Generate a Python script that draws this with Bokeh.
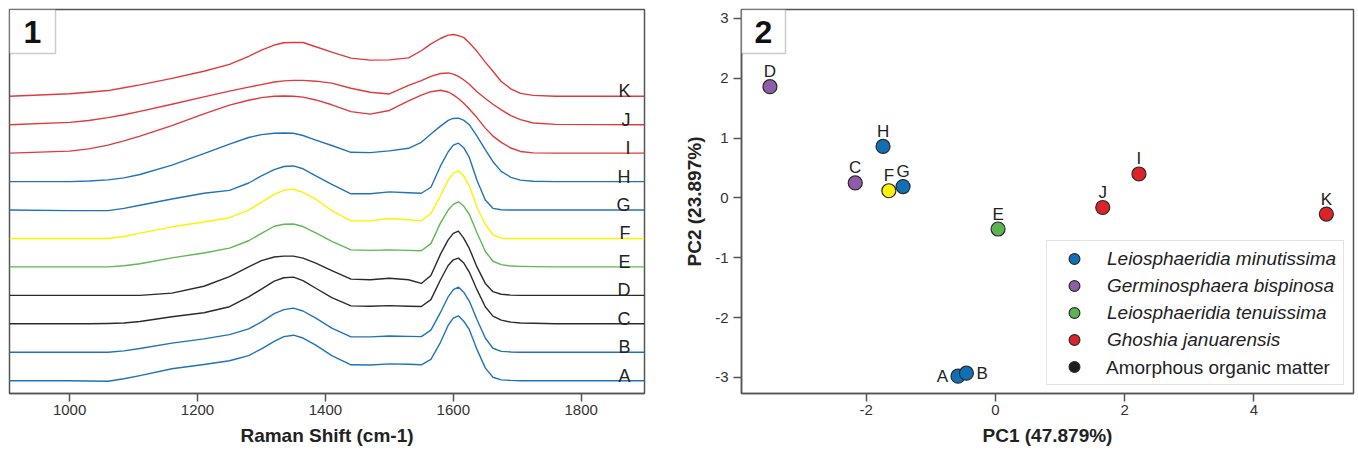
import numpy as np
from bokeh.plotting import figure
from bokeh.models import Range1d, FixedTicker, Legend, LegendItem, BoxAnnotation, Label
from bokeh.layouts import row
from bokeh.embed import file_html
from bokeh.resources import INLINE
from bokeh.core.properties import value

# ---------------- data: panel 1 (Raman spectra) ----------------
wavenumber = [906, 1000, 1030, 1060, 1085, 1110, 1160, 1210, 1250, 1280,
              1300, 1320, 1335, 1350, 1365, 1385, 1410, 1440, 1470, 1500,
              1530, 1550, 1565, 1580, 1592, 1600, 1608, 1616, 1625, 1637,
              1650, 1662, 1675, 1690, 1705, 1725, 1760, 1899]

spec_A = [0, 0, -0.01, -0.02, 0.07, 0.18, 0.42, 0.57, 0.70, 0.88,
          1.12, 1.38, 1.55, 1.60, 1.50, 1.25, 0.88, 0.56, 0.55, 0.59,
          0.58, 0.56, 0.75, 1.35, 1.95, 2.20, 2.28, 2.10, 1.80, 1.10,
          0.45, 0.12, 0.03, 0.01, 0, 0, 0, 0]
spec_B = [0, 0, 0, 0, 0.05, 0.13, 0.32, 0.47, 0.62, 0.82,
          1.07, 1.36, 1.50, 1.55, 1.45, 1.20, 0.85, 0.54, 0.54, 0.57,
          0.56, 0.55, 0.78, 1.40, 1.95, 2.20, 2.29, 2.12, 1.80, 1.15,
          0.50, 0.14, 0.03, 0.01, 0, 0, 0, 0]
spec_C = [0, 0, 0, 0.01, 0.03, 0.08, 0.25, 0.39, 0.60, 0.95,
          1.22, 1.50, 1.62, 1.64, 1.52, 1.25, 0.92, 0.63, 0.62, 0.64,
          0.62, 0.61, 0.85, 1.55, 2.05, 2.25, 2.31, 2.15, 1.82, 1.20,
          0.60, 0.27, 0.13, 0.06, 0.03, 0.02, 0, 0]
spec_D = [0, 0, 0, 0, 0, 0, 0.08, 0.32, 0.66, 1.00,
          1.22, 1.35, 1.38, 1.38, 1.31, 1.13, 0.87, 0.57, 0.55, 0.60,
          0.55, 0.42, 0.70, 1.45, 1.95, 2.18, 2.26, 2.02, 1.65, 1.00,
          0.42, 0.13, 0.04, 0.01, 0, 0, 0, 0]
spec_E = [0, 0, 0, 0, 0.04, 0.11, 0.32, 0.49, 0.66, 0.92,
          1.18, 1.43, 1.50, 1.51, 1.42, 1.20, 0.90, 0.60, 0.58, 0.60,
          0.58, 0.57, 0.82, 1.55, 2.00, 2.20, 2.29, 2.15, 1.85, 1.20,
          0.55, 0.20, 0.08, 0.03, 0.02, 0.01, 0, 0]
spec_F = [0, 0, 0, 0, 0.07, 0.19, 0.41, 0.58, 0.73, 1.00,
          1.27, 1.55, 1.70, 1.73, 1.62, 1.38, 0.98, 0.62, 0.62, 0.70,
          0.66, 0.62, 0.88, 1.50, 2.05, 2.30, 2.38, 2.20, 1.85, 1.10,
          0.50, 0.13, 0.01, 0, 0, 0, 0, 0]
spec_G = [0, -0.02, -0.02, -0.02, 0.06, 0.17, 0.39, 0.59, 0.69, 0.95,
          1.20, 1.42, 1.53, 1.55, 1.45, 1.20, 0.90, 0.57, 0.57, 0.64,
          0.61, 0.59, 0.80, 1.55, 2.05, 2.28, 2.35, 2.20, 1.85, 1.05,
          0.35, 0.06, 0.01, 0, 0, 0, 0, 0]
spec_H = [0, 0, 0.02, 0.06, 0.13, 0.25, 0.58, 0.98, 1.32, 1.55,
          1.65, 1.70, 1.71, 1.70, 1.62, 1.46, 1.27, 1.03, 1.02, 1.08,
          1.17, 1.38, 1.67, 1.95, 2.15, 2.22, 2.23, 2.16, 2.00, 1.60,
          1.12, 0.70, 0.36, 0.15, 0.05, 0.01, 0, 0]
spec_I = [0, 0.07, 0.15, 0.28, 0.43, 0.60, 0.97, 1.38, 1.69, 1.86,
          1.95, 2.00, 2.01, 2.00, 1.97, 1.87, 1.70, 1.46, 1.37, 1.50,
          1.84, 2.04, 2.16, 2.21, 2.15, 2.05, 1.92, 1.76, 1.55, 1.25,
          0.88, 0.60, 0.38, 0.18, 0.06, 0.01, 0, 0]
spec_J = [0, 0.08, 0.15, 0.25, 0.35, 0.47, 0.72, 0.98, 1.18, 1.32,
          1.41, 1.50, 1.54, 1.56, 1.56, 1.53, 1.46, 1.28, 1.14, 1.08,
          1.38, 1.55, 1.70, 1.80, 1.82, 1.78, 1.70, 1.58, 1.42, 1.16,
          0.92, 0.72, 0.52, 0.32, 0.18, 0.06, 0.01, 0]
spec_K = [0, 0.09, 0.14, 0.20, 0.30, 0.40, 0.63, 0.88, 1.12, 1.40,
          1.62, 1.80, 1.88, 1.89, 1.89, 1.74, 1.55, 1.34, 1.27, 1.28,
          1.35, 1.60, 1.84, 2.03, 2.15, 2.17, 2.13, 2.07, 1.88, 1.58,
          1.20, 0.88, 0.52, 0.26, 0.10, 0.03, 0, 0]

samples = ["A", "B", "C", "D", "E", "F", "G", "H", "I", "J", "K"]
spectra = [spec_A, spec_B, spec_C, spec_D, spec_E, spec_F,
           spec_G, spec_H, spec_I, spec_J, spec_K]
raman_ticks = [1000, 1200, 1400, 1600, 1800]

# ---------------- data: panel 2 (PCA) ----------------
pc1 = [-0.58, -0.45, -2.17, -3.49, 0.04, -1.65, -1.43, -1.74, 2.22, 1.66, 5.12]
pc2 = [-2.98, -2.93, 0.25, 1.86, -0.52, 0.12, 0.19, 0.86, 0.40, -0.16, -0.27]
taxa = ["Leiosphaeridia minutissima", "Germinosphaera bispinosa",
        "Leiosphaeridia tenuissima", "Ghoshia januarensis",
        "Amorphous organic matter"]
# taxon index of each point (None = not in legend, drawn yellow)
point_taxon = [0, 0, 1, 1, 2, None, 0, 0, 3, 3, 3]
pc1_ticks = [-2, 0, 2, 4]
pc2_ticks = [-3, -2, -1, 0, 1, 2, 3]

# ---------------- styles ----------------
S_BLUE, S_BLACK, S_GREEN, S_YELLOW, S_RED = "#1f74b7", "#2b2b2b", "#5db951", "#fff200", "#e03a3e"
spectrum_colors = [S_BLUE, S_BLUE, S_BLACK, S_BLACK, S_GREEN, S_YELLOW,
                   S_BLUE, S_BLUE, S_RED, S_RED, S_RED]
taxon_colors = ["#1170b5", "#8e5ca8", "#5bb450", "#dc2329", "#1e1e1e"]
other_color = "#fff200"
label_side = {"A": "left", "B": "right"}
FONT = "Liberation Sans"
AX = "#555555"
H_TOTAL, TOP, BOTTOM, H_FRAME = 454, 9, 61, 384


def style_axis(ax):
    ax.axis_line_color = AX
    ax.axis_line_width = 1.5
    ax.major_tick_line_color = AX
    ax.major_tick_line_width = 1.5
    ax.major_tick_in = 0
    ax.minor_tick_in = 0
    ax.minor_tick_out = 0
    ax.major_label_text_font = FONT
    ax.major_label_text_font_size = "15px"
    ax.major_label_text_color = "#333333"
    ax.axis_label_text_font = FONT
    ax.axis_label_text_font_size = "19px"
    ax.axis_label_text_font_style = "bold"
    ax.axis_label_text_color = "#222222"


# ================= panel 1 =================
X0, X1 = 906, 1899
Y0, Y1 = -0.45, 13.05
W1_FRAME = 635
p1 = figure(width=9 + W1_FRAME + 37, height=H_TOTAL, x_range=Range1d(X0, X1), y_range=Range1d(Y0, Y1),
            output_backend="svg", toolbar_location=None,
            min_border_left=9, min_border_right=37, min_border_top=TOP, min_border_bottom=BOTTOM)
p1.yaxis.visible = False
p1.grid.visible = False
p1.outline_line_color = AX
p1.outline_line_width = 1.5
p1.background_fill_color = "white"

for i, (vals, col) in enumerate(zip(spectra, spectrum_colors)):
    p1.line(wavenumber, [i + v for v in vals], line_color=col, line_width=1.4,
            line_join="round")

p1.text(x=[X1] * len(samples), y=list(range(len(samples))), text=samples,
        x_offset=-14, y_offset=-5, text_align="right", text_baseline="alphabetic",
        text_font=value(FONT), text_font_size="18px", text_color="#222222")

xa = p1.xaxis[0]
xa.ticker = FixedTicker(ticks=raman_ticks)
xa.axis_label = "Raman Shift (cm-1)"
style_axis(xa)
xa.major_tick_out = 8
xa.major_label_standoff = 3
xa.axis_label_standoff = 7

xpp1 = (X1 - X0) / W1_FRAME
ypp1 = (Y1 - Y0) / H_FRAME
p1.add_layout(BoxAnnotation(right=X0 + 46 * xpp1, bottom=Y1 - 44 * ypp1,
                            fill_color="white", fill_alpha=1.0,
                            line_color=AX, line_width=1.5))
p1.add_layout(Label(x=X0 + 23 * xpp1, y=Y1 - 22 * ypp1, text="1",
                    text_align="center", text_baseline="middle",
                    text_font=FONT, text_font_size="32px", text_font_style="bold",
                    text_color="#111111"))

# ================= panel 2 =================
PX0, PX1 = -3.93, 5.54
PY0, PY1 = -3.27, 3.15
W2_FRAME = 612
p2 = figure(width=60 + W2_FRAME + 3, height=H_TOTAL, x_range=Range1d(PX0, PX1), y_range=Range1d(PY0, PY1),
            output_backend="svg", toolbar_location=None,
            min_border_left=60, min_border_right=3, min_border_top=TOP, min_border_bottom=BOTTOM)
p2.grid.visible = False
p2.outline_line_color = AX
p2.outline_line_width = 1.5

xb = p2.xaxis[0]
xb.ticker = FixedTicker(ticks=pc1_ticks)
xb.major_label_overrides = {t: str(t) for t in pc1_ticks}
xb.axis_label = "PC1 (47.879%)"
style_axis(xb)
xb.major_tick_out = 8
xb.major_label_standoff = 3
xb.axis_label_standoff = 7

yb = p2.yaxis[0]
yb.ticker = FixedTicker(ticks=pc2_ticks)
yb.major_label_overrides = {t: str(t) for t in pc2_ticks}
yb.axis_label = "PC2 (23.897%)"
style_axis(yb)
yb.major_tick_out = 8
yb.major_label_standoff = 5
yb.axis_label_standoff = 7

taxon_renderers = []
for k, col in enumerate(taxon_colors):
    xs = [pc1[i] for i in range(len(samples)) if point_taxon[i] == k]
    ys = [pc2[i] for i in range(len(samples)) if point_taxon[i] == k]
    if not xs:
        # legend-only proxy (no sample of this class): a single non-drawn NaN point
        xs, ys = np.array([np.nan]), np.array([np.nan])
    r = p2.scatter(x=xs, y=ys, size=14, marker="circle", fill_color=col,
                   line_color="#2a2a2a", line_width=1.2)
    taxon_renderers.append(r)
xs = [pc1[i] for i in range(len(samples)) if point_taxon[i] is None]
ys = [pc2[i] for i in range(len(samples)) if point_taxon[i] is None]
p2.scatter(x=xs, y=ys, size=14, marker="circle", fill_color=other_color,
           line_color="#2a2a2a", line_width=1.2)


def idx_for(side):
    return [i for i, s in enumerate(samples) if label_side.get(s, "above") == side]


for side, kw in [("above", dict(text_align="center", x_offset=0, y_offset=-15, text_baseline="alphabetic")),
                 ("left", dict(text_align="right", x_offset=-10, y_offset=0, text_baseline="middle")),
                 ("right", dict(text_align="left", x_offset=10, y_offset=0, text_baseline="middle"))]:
    ids = idx_for(side)
    p2.text(x=[pc1[i] for i in ids], y=[pc2[i] for i in ids], text=[samples[i] for i in ids],
            text_font=value(FONT), text_font_size="17px", text_color="#222222", **kw)

# legend (italic taxa + upright last entry)
ghost = p2.scatter(x=[], y=[], size=1, fill_alpha=0, line_alpha=0)
common = dict(location=(305, 8), glyph_width=46, glyph_height=27, label_height=27,
              spacing=0, padding=4, label_standoff=10, label_width=232, margin=0,
              label_text_font=FONT, label_text_font_size="19px", label_text_color="#222222")
leg1 = Legend(items=[LegendItem(label=taxa[k], renderers=[taxon_renderers[k]]) for k in range(4)]
              + [LegendItem(label=" ", renderers=[taxon_renderers[4]])],
              label_text_font_style="italic", border_line_color="#c8c8c8", border_line_width=1.5,
              background_fill_color="white", background_fill_alpha=1.0, **common)
leg2 = Legend(items=[LegendItem(label=taxa[4], renderers=[ghost])],
              label_text_font_style="normal", border_line_alpha=0, background_fill_alpha=0, **common)
p2.add_layout(leg1)
p2.add_layout(leg2)

xpp2 = (PX1 - PX0) / W2_FRAME
ypp2 = (PY1 - PY0) / H_FRAME
p2.add_layout(BoxAnnotation(right=PX0 + 44 * xpp2, bottom=PY1 - 44 * ypp2,
                            fill_color="white", fill_alpha=1.0,
                            line_color=AX, line_width=1.5))
p2.add_layout(Label(x=PX0 + 22 * xpp2, y=PY1 - 22 * ypp2, text="2",
                    text_align="center", text_baseline="middle",
                    text_font=FONT, text_font_size="32px", text_font_style="bold",
                    text_color="#111111"))

layout = row(p1, p2)
open("out.html", "w").write(file_html(layout, INLINE))
